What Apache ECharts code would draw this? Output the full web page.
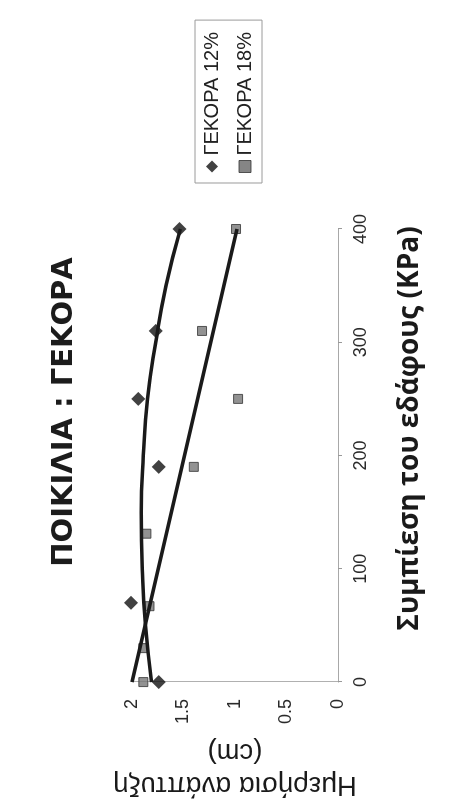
<!DOCTYPE html>
<html>
<head>
<meta charset="utf-8">
<script src="https://cdn.jsdelivr.net/npm/echarts@6/dist/echarts.min.js"></script>
<style>
  html, body { margin: 0; padding: 0; background: #ffffff; overflow: hidden; width: 458px; height: 809px; }
  #chart {
    position: absolute; left: 0; top: 0;
    width: 809px; height: 458px;
    transform-origin: 0 0;
    transform: translateY(809px) rotate(-90deg);
  }
</style>
</head>
<body>
<div id="chart"></div>
<script>
// Compression (KPa) and daily growth (cm)
const titleText = 'ΠΟΙΚΙΛΙΑ : ΓΕΚΟΡΑ';
const xName = 'Συμπίεση του εδάφους (KPa)';
const yName = 'Ημερήσια ανάπτυξη\n(cm)';
const seriesNames = ['ΓΕΚΟΡΑ 12%', 'ΓΕΚΟΡΑ 18%'];

const comp12 = [0, 70, 190, 250, 310, 400];
const growth12 = [1.74, 2.01, 1.74, 1.94, 1.77, 1.54];

const comp18 = [0, 30, 67, 131, 190, 250, 310, 400];
const growth18 = [1.89, 1.89, 1.83, 1.86, 1.40, 0.97, 1.32, 0.99];

// trend lines
const trendComp12 = [0, 50, 100, 150, 200, 250, 300, 350, 400];
const trendGrowth12 = [1.81, 1.87, 1.90, 1.91, 1.89, 1.85, 1.77, 1.67, 1.53];
const trendComp18 = [0, 400];
const trendGrowth18 = [2.00, 0.98];

const xTicks = [0, 400, 100];   // min, max, interval
const yTicks = [0, 2, 0.5];

const pairs = (xs, ys) => xs.map((x, i) => [x, ys[i]]);

const chart = echarts.init(document.getElementById('chart'), null, { renderer: 'canvas', width: 809, height: 458 });
const font = '"Liberation Sans", Arial, sans-serif';

chart.setOption({
  backgroundColor: '#ffffff',
  animation: false,
  title: {
    text: titleText,
    left: 392,
    top: 45,
    textAlign: 'center',
    textStyle: { fontFamily: '"DejaVu Sans", sans-serif', fontSize: 29, fontWeight: 'bold', color: '#1c1c1c' }
  },
  legend: {
    orient: 'vertical',
    left: 626,
    top: 195,
    padding: [7, 12, 7, 10],
    itemGap: 13,
    itemWidth: 12,
    itemHeight: 12,
    borderColor: '#9a9a9a',
    borderWidth: 1,
    data: [
      { name: seriesNames[0], icon: 'diamond', itemStyle: { color: '#111' } },
      { name: seriesNames[1], icon: 'rect', itemStyle: { color: '#666', borderColor: '#333', borderWidth: 1 } }
    ],
    textStyle: { fontFamily: font, fontSize: 20, color: '#222' }
  },
  grid: { left: 122, top: 132, width: 458, height: 206, containLabel: false },
  xAxis: {
    type: 'value',
    min: xTicks[0], max: xTicks[1], interval: xTicks[2],
    name: xName,
    nameLocation: 'middle',
    nameGap: 58,
    nameTextStyle: { fontFamily: '"Open Sans", "Liberation Sans", sans-serif', fontSize: 28, fontWeight: 'bold', color: '#1a1a1a', padding: [0, 0, 0, 54] },
    axisLine: { show: true, lineStyle: { color: '#a8a8a8', width: 1 } },
    axisTick: { show: true, length: 4, lineStyle: { color: '#999' } },
    axisLabel: { margin: 14, fontFamily: font, fontSize: 18, color: '#2a2a2a' },
    splitLine: { show: false }
  },
  yAxis: {
    type: 'value',
    min: yTicks[0], max: yTicks[1], interval: yTicks[2],
    name: yName,
    nameLocation: 'middle',
    nameGap: 41,
    nameTextStyle: { fontFamily: font, fontSize: 27.5, color: '#1a1a1a', lineHeight: 33, align: 'center' },
    axisLine: { show: true, lineStyle: { color: '#b0b0b0', width: 1 } },
    axisTick: { show: false },
    axisLabel: { margin: 17, fontFamily: font, fontSize: 18, color: '#2a2a2a' },
    splitLine: { show: false }
  },
  series: [
    {
      name: seriesNames[0], type: 'scatter', symbol: 'diamond', symbolSize: 14, clip: false,
      itemStyle: { color: '#111' }, z: 3,
      data: pairs(comp12, growth12)
    },
    {
      name: seriesNames[1], type: 'scatter', symbol: 'rect', symbolSize: 9, clip: false,
      itemStyle: { color: '#777', borderColor: '#333', borderWidth: 1 }, z: 2,
      data: pairs(comp18, growth18)
    },
    {
      name: 'trend12', type: 'line', smooth: true, showSymbol: false, symbol: 'none', clip: false,
      lineStyle: { color: '#1a1a1a', width: 3.5 }, z: 4, silent: true,
      data: pairs(trendComp12, trendGrowth12)
    },
    {
      name: 'trend18', type: 'line', showSymbol: false, symbol: 'none', clip: false,
      lineStyle: { color: '#1a1a1a', width: 3.5 }, z: 4, silent: true,
      data: pairs(trendComp18, trendGrowth18)
    }
  ]
});
</script>
</body>
</html>
